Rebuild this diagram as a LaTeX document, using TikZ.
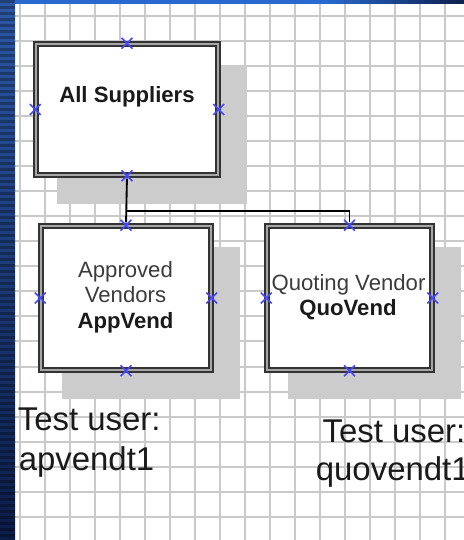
\documentclass[tikz,border=0pt]{standalone}
\usepackage{fontspec}
\setmainfont{Liberation Sans}
\usetikzlibrary{calc,shapes.misc,backgrounds}
\definecolor{gridc}{RGB}{202,202,202}
\definecolor{shadowc}{RGB}{204,204,204}
\definecolor{mkc}{RGB}{70,70,255}
\definecolor{navyA}{RGB}{44,88,165}
\definecolor{navyB}{RGB}{12,28,72}
\definecolor{topA}{RGB}{42,106,208}
\definecolor{txtc}{RGB}{26,26,26}
\definecolor{lightc}{RGB}{60,60,60}
\begin{document}
\begin{tikzpicture}[x=0.75pt,y=-0.75pt,
  box/.style={draw=black!80, line width=1.1pt, double=black!35, double distance=2.2pt, fill=white, inner sep=0pt},
  mk/.style={cross out, draw=mkc, line width=1.1pt, minimum size=7pt, inner sep=0pt},
  conn/.style={draw=black, line width=1.4pt},
  lbl/.style={font=\fontsize{16.6}{19}\selectfont, text=txtc, inner sep=0pt, anchor=base},
  lblb/.style={lbl, font=\fontsize{16.6}{19}\selectfont\bfseries},
  lbll/.style={lbl, text=lightc},
  big/.style={font=\fontsize{24.7}{30}\selectfont, text=txtc, inner sep=0pt, anchor=base west},
]
\useasboundingbox (0,0) rectangle (464,540);
\clip (0,0) rectangle (464,540);

% background, grid, slide edges
\begin{scope}[on background layer]
  \fill[white] (0,0) rectangle (464,540);
  \foreach \gx in {20,45,...,445} \draw[gridc, line width=1.5pt] (\gx,3) -- (\gx,540);
  \foreach \k in {0,...,20} \draw[gridc, line width=1.5pt] (15,{15.8+25.05*\k}) -- (464,{15.8+25.05*\k});
  \shade[top color=navyA, bottom color=navyB] (0,0) rectangle (15,540);
  \foreach \sy in {0,6,...,540} \fill[black, opacity=0.28] (0,\sy) rectangle (15,\sy+3);
  \fill[topA] (15,0) rectangle (320,3.5);
  \foreach \i [evaluate=\i as \pc using {int(100-\i*5.5)}] in {0,...,17}
    \fill[topA!\pc!navyB] ({320+\i*8},0) rectangle ({328.5+\i*8},3.5);
\end{scope}

% boxes
\node[box, minimum width=136.5pt, minimum height=98.25pt] (sup) at (127,109.5) {};
\node[box, minimum width=127.5pt, minimum height=108pt] (app) at (126,298) {};
\node[box, minimum width=123.75pt, minimum height=108pt] (quo) at (349.5,298) {};

% shadows
\begin{scope}[on background layer]
  \fill[shadowc] ($(sup.north west)+(22,22)$) rectangle ($(sup.south east)+(28,28)$);
  \fill[shadowc] ($(app.north west)+(22,22)$) rectangle ($(app.south east)+(28,28)$);
  \fill[shadowc] ($(quo.north west)+(22,22)$) rectangle ($(quo.south east)+(28,28)$);
\end{scope}

% connectors
\coordinate (j) at ($(sup.south)+(0,35)$);
\draw[conn, shorten <=2.2pt, shorten >=2.2pt] (sup.south) -- (app.north);
\draw[conn, shorten >=2.2pt] (j) -| (quo.north);

% box texts
\node[lblb] (suptxt) at (127,102) {All Suppliers};
\node[lbll] (app1) at (125.5,277) {Approved};
\node[lbll] (app2) at (125.5,302) {Vendors};
\node[lblb] (app3) at (125.5,328) {AppVend};
\node[lbll] (quo1) at (348.5,290) {Quoting Vendor};
\node[lblb] (quo2) at (348,315) {QuoVend};

% connection point markers
\foreach \b in {sup,app,quo}{
  \foreach \a in {north,south,west,east}{
    \node[mk] (m-\b-\a) at (\b.\a) {};
  }
}

% test user labels
\node[big] (tl1) at (17.5,430) {Test user:};
\node[big] (tl2) at (18.5,470) {apvendt1};
\node[big] (tr1) at (322.3,442) {Test user:};
\node[big] (tr2) at (315.6,480) {quovendt1};
\end{tikzpicture}
\end{document}
